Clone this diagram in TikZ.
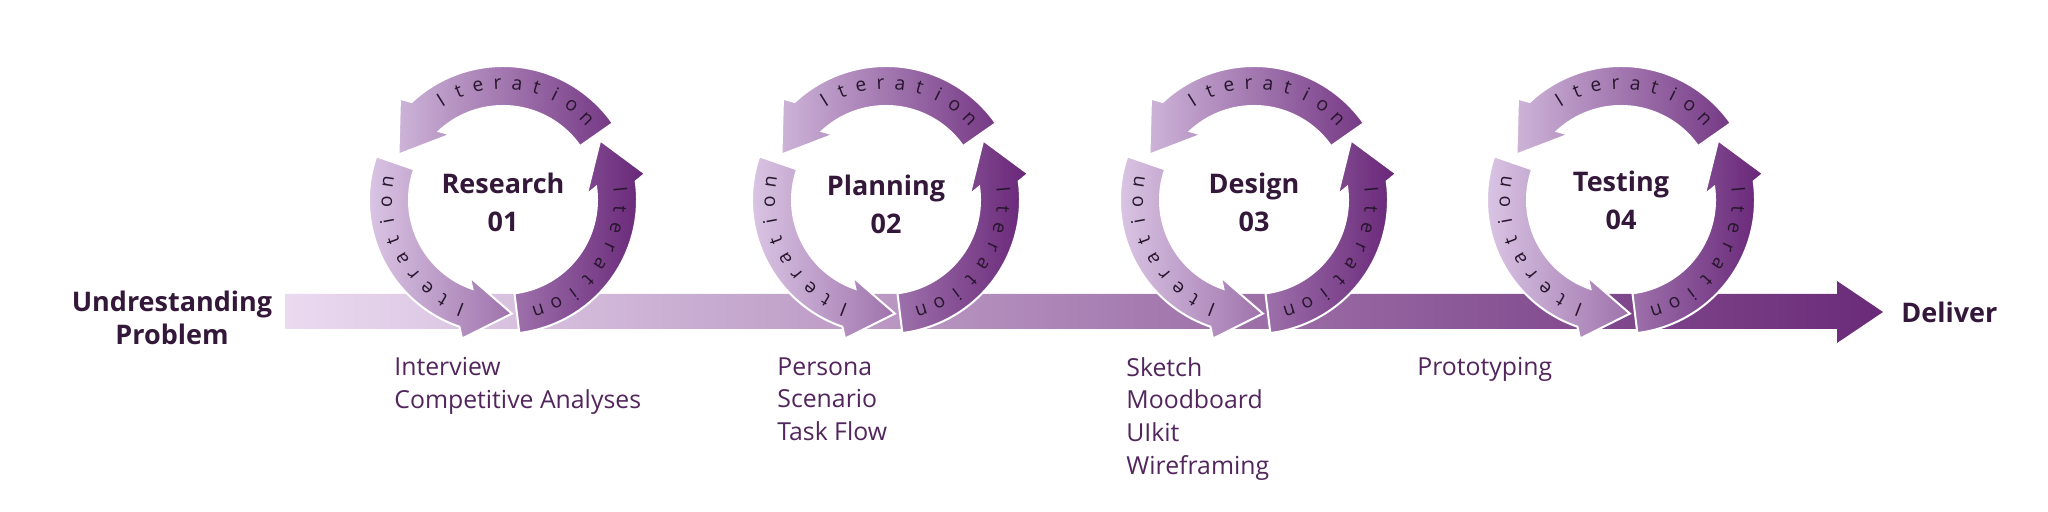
\documentclass[tikz,border=0pt]{standalone}
\usepackage{fontspec}
\setmainfont{Open Sans}
\usepackage{tikz}
\usetikzlibrary{positioning, calc}
\definecolor{ringLight}{RGB}{224,206,234}
\definecolor{ringDark}{RGB}{104,38,120}
\definecolor{bandLight}{RGB}{234,218,240}
\definecolor{bandDark}{RGB}{106,42,120}
\definecolor{titleInk}{RGB}{52,24,58}
\definecolor{labelInk}{RGB}{82,38,92}
\definecolor{iterInk}{RGB}{40,22,46}
\newcommand{\rIn}{94}
\newcommand{\rOut}{134}
\newcommand{\rMid}{114}
\newcommand{\rTxt}{111}
\newcommand{\headW}{31}
\newcommand{\headD}{23.5}
\newcommand{\IterArrow}[3]{%
  ($(#1)+(#2:\rIn)$) arc[start angle=#2, end angle=#3, radius=\rIn]
  -- ($(#1)+(#3:\rMid)-({#3+\headD/2}:\headW)$)
  -- ($(#1)+({#3+\headD}:\rMid)$)
  -- ($(#1)+(#3:\rMid)+({#3+\headD/2}:\headW)$)
  -- ($(#1)+(#3:\rOut)$) arc[start angle=#3, end angle=#2, radius=\rOut] -- cycle}
\tikzset{
    ring/.style={left color=ringLight, right color=ringDark, draw=white, line width=1pt},
    iterletter/.style={anchor=base, inner sep=0, text=iterInk, font=\fontsize{9.6}{9.6}\selectfont},
    stagetitle/.style={align=center, inner sep=0, text=titleInk, font=\bfseries\fontsize{13.5}{19}\selectfont},
    endtext/.style={align=center, inner sep=0, text=titleInk, font=\bfseries\fontsize{13.5}{16.5}\selectfont},
    tasklist/.style={align=left, anchor=north west, inner sep=0, text=labelInk, font=\fontsize{12.4}{16.3}\selectfont},
}

\begin{document}
\begin{tikzpicture}[x=0.5pt, y=0.5pt]
    \useasboundingbox (0,0) rectangle (2048,512);

    \coordinate (start) at (285,200);
    \coordinate (tip) at (1883,200);
    \coordinate (r1) at (503,312);
    \coordinate (r2) at (886,312);
    \coordinate (r3) at (1254,312);
    \coordinate (r4) at (1621,312);

    \shade[left color=bandLight, right color=bandDark]
      ($(start)+(0,-17)$) -- (1837,183) -- (1837,169) -- (tip)
      -- (1837,231) -- (1837,218) -- ($(start)+(0,18)$) -- cycle;

    \foreach \n in {1,...,4}{
      \shadedraw[ring] \IterArrow{r\n}{-83}{8} \IterArrow{r\n}{35}{133} \IterArrow{r\n}{161}{251};
      \foreach \m [count=\k] in {83,210,-33.5}
        \foreach \ch [count=\i] in {I,t,e,r,a,t,i,o,n}
          \node[iterletter, rotate={\m+38.8-(\i-1)*9.7-90}] (it\n\k\i)
            at ($(r\n)+({\m+38.8-(\i-1)*9.7}:\rTxt)$) {\ch};
    }

    \node[endtext] (problem) at (172,194) {Undrestanding\\Problem};
    \node[stagetitle] (s1) at ($(r1)+(0,-2)$) {Research\\01};
    \node[stagetitle] (s2) at ($(r2)+(0,-4)$) {Planning\\02};
    \node[stagetitle] (s3) at ($(r3)+(0,-2)$) {Design\\03};
    \node[stagetitle] (s4) at (r4) {Testing\\04};
    \node[endtext, right=9pt of tip] (deliver) {Deliver};

    \node[tasklist] (l1) at (394,155) {Interview\\Competitive Analyses};
    \node[tasklist] (l2) at (777,155) {Persona\\Scenario\\Task Flow};
    \node[tasklist] (l3) at (1126,155) {Sketch\\Moodboard\\UIkit\\Wireframing};
    \node[tasklist] (l4) at (1417,155) {Prototyping};
\end{tikzpicture}
\end{document}
